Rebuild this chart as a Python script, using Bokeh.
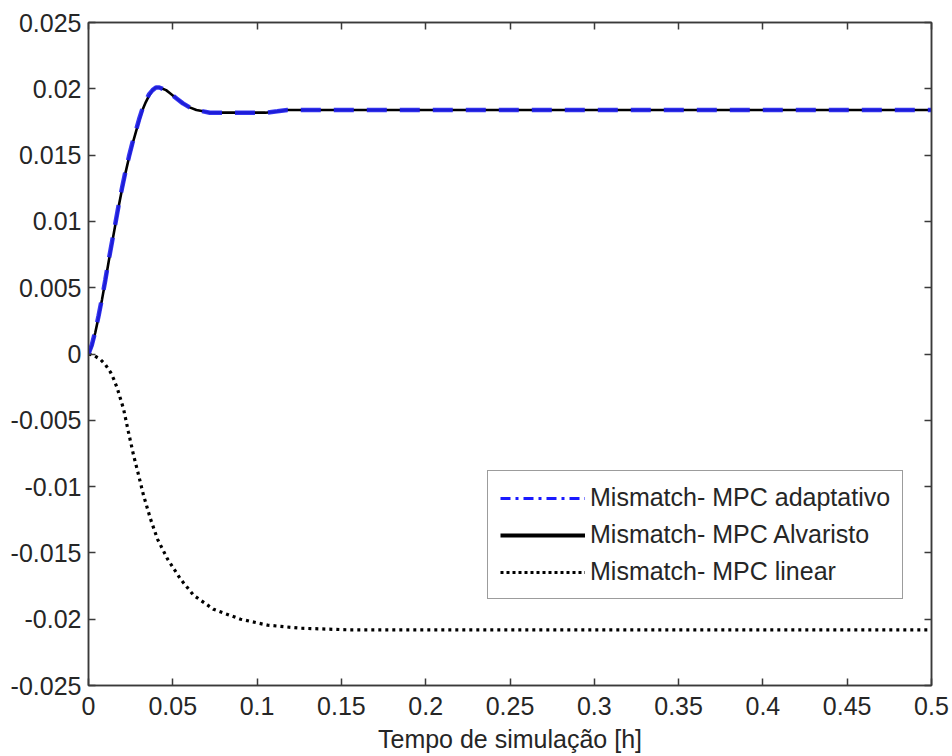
from bokeh.plotting import figure
from bokeh.models import (Range1d, FixedTicker, LinearAxis, Legend, LegendItem,
                          ColumnDataSource)
from bokeh.embed import file_html
from bokeh.resources import INLINE

# Mismatch trajectories over simulation time [h]
t_adapt = [0, 0.002, 0.004, 0.006, 0.008, 0.010, 0.012, 0.014, 0.016, 0.018, 0.020,
           0.022, 0.024, 0.026, 0.028, 0.030, 0.032, 0.034, 0.036, 0.038, 0.040,
           0.042, 0.044, 0.046, 0.048, 0.050, 0.053, 0.056, 0.060, 0.064, 0.068,
           0.072, 0.078, 0.085, 0.095, 0.105, 0.112, 0.118, 0.125, 0.5]
y_adapt = [0, 0.0007, 0.0017, 0.0029, 0.0042, 0.0056, 0.0071, 0.0085, 0.0099, 0.0113,
           0.0126, 0.0138, 0.0149, 0.0159, 0.0168, 0.0177, 0.0185, 0.0191, 0.0196,
           0.0199, 0.0201, 0.0201, 0.0200, 0.0199, 0.0197, 0.0195, 0.0192, 0.0189,
           0.0186, 0.0184, 0.0183, 0.0182, 0.0182, 0.0182, 0.0182, 0.0182, 0.0183,
           0.0184, 0.0184, 0.0184]

t_alv = [0, 0.002, 0.004, 0.006, 0.008, 0.010, 0.012, 0.014, 0.016, 0.018, 0.020,
         0.022, 0.024, 0.026, 0.028, 0.030, 0.032, 0.034, 0.036, 0.038, 0.040,
         0.042, 0.044, 0.046, 0.048, 0.050, 0.053, 0.056, 0.060, 0.064, 0.068,
         0.072, 0.078, 0.085, 0.095, 0.105, 0.112, 0.118, 0.125, 0.5]
y_alv = [0, 0.0006, 0.0016, 0.0028, 0.0041, 0.0055, 0.0070, 0.0084, 0.0098, 0.0112,
         0.0125, 0.0137, 0.0148, 0.0158, 0.0167, 0.0176, 0.0184, 0.0190, 0.0195,
         0.0199, 0.0201, 0.0201, 0.0200, 0.0199, 0.0197, 0.0195, 0.0192, 0.0189,
         0.0186, 0.0184, 0.0183, 0.0182, 0.0182, 0.0182, 0.0182, 0.0182, 0.0183,
         0.0184, 0.0184, 0.0184]

t_lin = [0, 0.003, 0.007, 0.010, 0.013, 0.015, 0.0172, 0.019, 0.0208, 0.0237, 0.0267,
         0.0297, 0.0326, 0.0368, 0.0409, 0.0469, 0.0546, 0.0623, 0.0741, 0.0902,
         0.1062, 0.1257, 0.154, 0.5]
y_lin = [0, -0.0001, -0.0004, -0.0008, -0.00136, -0.0019, -0.00264, -0.0034, -0.00415,
         -0.00589, -0.00762, -0.00913, -0.01064, -0.01245, -0.01396, -0.01547,
         -0.01698, -0.01819, -0.01925, -0.0200, -0.02045, -0.02068, -0.0208, -0.0208]

labels = ["Mismatch- MPC adaptativo", "Mismatch- MPC Alvaristo", "Mismatch- MPC linear"]

x_ticks = [0, 0.05, 0.1, 0.15, 0.2, 0.25, 0.3, 0.35, 0.4, 0.45, 0.5]
x_tick_labels = ["0", "0.05", "0.1", "0.15", "0.2", "0.25", "0.3", "0.35", "0.4", "0.45", "0.5"]
y_ticks = [-0.025, -0.02, -0.015, -0.01, -0.005, 0, 0.005, 0.01, 0.015, 0.02, 0.025]
y_tick_labels = ["-0.025", "-0.02", "-0.015", "-0.01", "-0.005", "0", "0.005", "0.01",
                 "0.015", "0.02", "0.025"]

FONT = "Liberation Sans"
AXIS_COLOR = "#3a3a3a"
TEXT_COLOR = "#262626"

p = figure(width=952, height=756, output_backend="svg", toolbar_location=None,
           x_range=Range1d(0, 0.5), y_range=Range1d(-0.025, 0.025),
           min_border_left=88, min_border_right=21, min_border_top=22,
           min_border_bottom=71, x_axis_location=None, y_axis_location=None)
p.xgrid.visible = False
p.ygrid.visible = False
p.outline_line_color = AXIS_COLOR
p.outline_line_width = 1.5
p.background_fill_color = "white"
p.border_fill_color = "white"


def make_axis(ticks, tick_labels, show_labels, standoff=7, label=None):
    ax = LinearAxis(ticker=FixedTicker(ticks=ticks))
    ax.major_tick_in = 7
    ax.major_tick_out = 0
    ax.minor_tick_line_color = None
    ax.axis_line_color = AXIS_COLOR
    ax.axis_line_width = 1.5
    ax.major_tick_line_color = AXIS_COLOR
    ax.major_tick_line_width = 1.5
    if show_labels:
        ax.major_label_overrides = {v: s for v, s in zip(ticks, tick_labels)}
        ax.major_label_text_font = FONT
        ax.major_label_text_font_size = "25px"
        ax.major_label_text_color = TEXT_COLOR
        ax.major_label_standoff = standoff
    else:
        ax.major_label_text_font_size = "0px"
        ax.major_label_text_alpha = 0
    if label:
        ax.axis_label = label
        ax.axis_label_text_font = FONT
        ax.axis_label_text_font_style = "normal"
        ax.axis_label_text_font_size = "25px"
        ax.axis_label_text_color = TEXT_COLOR
        ax.axis_label_standoff = 7
    return ax


p.add_layout(make_axis(x_ticks, x_tick_labels, True, standoff=11,
                       label="Tempo de simulação [h]"), "below")
p.add_layout(make_axis(y_ticks, y_tick_labels, True, standoff=7), "left")
p.add_layout(make_axis(x_ticks, x_tick_labels, False), "above")
p.add_layout(make_axis(y_ticks, y_tick_labels, False), "right")

r_lin = p.line(t_lin, y_lin, line_color="black", line_width=3.2, line_dash="3 4")
r_alv = p.line(t_alv, y_alv, line_color="black", line_width=2.6)
r_adapt = p.line(t_adapt, y_adapt, line_color="#2020f0", line_width=4.5,
                 line_dash="20 13", line_alpha=0.9)

# legend samples: single-point lines (nothing drawn in the frame) carrying
# the line styles shown in the legend
def legend_proxy(t, y, **style):
    src = ColumnDataSource(dict(x=t[:1], y=y[:1]))
    return p.line("x", "y", source=src, **style)


leg_adapt = legend_proxy(t_adapt, y_adapt, line_color="#1a1aff", line_width=3,
                         line_dash="10 5 3 5")
leg_alv = legend_proxy(t_alv, y_alv, line_color="black", line_width=4)
leg_lin = legend_proxy(t_lin, y_lin, line_color="black", line_width=3, line_dash="3 3")

legend = Legend(items=[LegendItem(label=labels[0], renderers=[leg_adapt]),
                       LegendItem(label=labels[1], renderers=[leg_alv]),
                       LegendItem(label=labels[2], renderers=[leg_lin])],
                location=(399, 86))
legend.label_text_font = FONT
legend.label_text_font_size = "25px"
legend.label_text_color = TEXT_COLOR
legend.glyph_width = 85
legend.glyph_height = 28
legend.label_height = 28
legend.label_standoff = 5
legend.spacing = 8
legend.padding = 12
legend.margin = 0
legend.border_line_color = AXIS_COLOR
legend.border_line_width = 1.5
legend.background_fill_color = "white"
legend.background_fill_alpha = 1
p.add_layout(legend, "center")

open("out.html", "w").write(file_html(p, INLINE))
